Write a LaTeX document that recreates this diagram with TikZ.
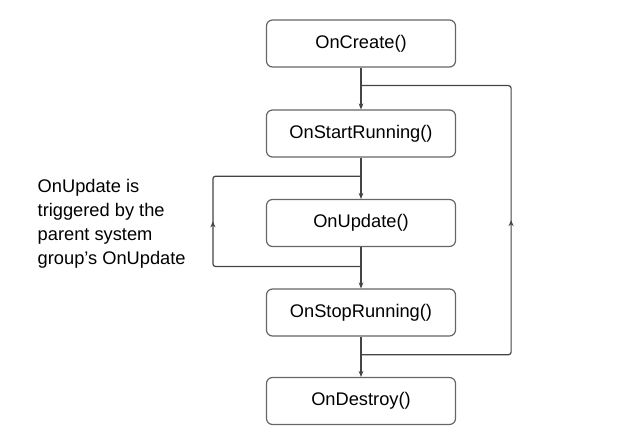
\documentclass[tikz,border=0pt]{standalone}
\usepackage{fontspec}
\setmainfont{Liberation Sans}
\usetikzlibrary{arrows.meta, calc, decorations.markings}
\definecolor{boxline}{HTML}{666666}
\definecolor{flowline}{HTML}{444444}
\tikzset{
  stagebox/.style={draw=boxline, line width=0.9pt, rounded corners=4.5pt,
    minimum width=141.75pt, minimum height=35.25pt, font=\fontsize{13.7}{16}\selectfont},
  flow/.style={draw=flowline, line width=0.9pt, -{Stealth[length=4.5pt, width=3.6pt]}},
  loopline/.style={draw=flowline, line width=0.9pt, rounded corners=2pt,
    postaction={decorate}, decoration={markings,
      mark=at position 0.5 with {\arrow{Stealth[length=4.5pt, width=3.8pt]}}}}
}
\begin{document}
\begin{tikzpicture}[x=0.75pt, y=-0.75pt]
  \useasboundingbox (0,0) rectangle (642,443);
  % Lifecycle stages
  \node[stagebox] (create)  at (361,43.5)  {OnCreate()};
  \node[stagebox] (start)   at (361,133.5) {OnStartRunning()};
  \node[stagebox] (update)  at (361,223)   {OnUpdate()};
  \node[stagebox] (stop)    at (361,312.5) {OnStopRunning()};
  \node[stagebox] (destroy) at (361,401)   {OnDestroy()};
  % Junctions on the main line
  \coordinate (rjoin)  at ($(create.south)!0.43!(start.north)$);
  \coordinate (ljoin)  at ($(start.south)!0.45!(update.north)$);
  \coordinate (lsplit) at ($(update.south)!0.47!(stop.north)$);
  \coordinate (rsplit) at ($(stop.south)!0.45!(destroy.north)$);
  % Main flow
  \draw[flow] (create) -- (start);
  \draw[flow] (start) -- (update);
  \draw[flow] (update) -- (stop);
  \draw[flow] (stop) -- (destroy);
  % Update loop
  \draw[loopline] (lsplit) -- ([xshift=-39.75pt]update.west |- lsplit)
    -- ([xshift=-39.75pt]update.west |- ljoin) -- (ljoin);
  % Restart loop
  \draw[loopline] (rsplit) -- ([xshift=41.25pt]stop.east |- rsplit)
    -- ([xshift=41.25pt]start.east |- rjoin) -- (rjoin);
  % Note
  \node[anchor=west, align=left, font=\fontsize{13.7}{18}\selectfont] (note) at (33,224)
    {OnUpdate is\\triggered by the\\parent system\\group's OnUpdate};
\end{tikzpicture}
\end{document}
